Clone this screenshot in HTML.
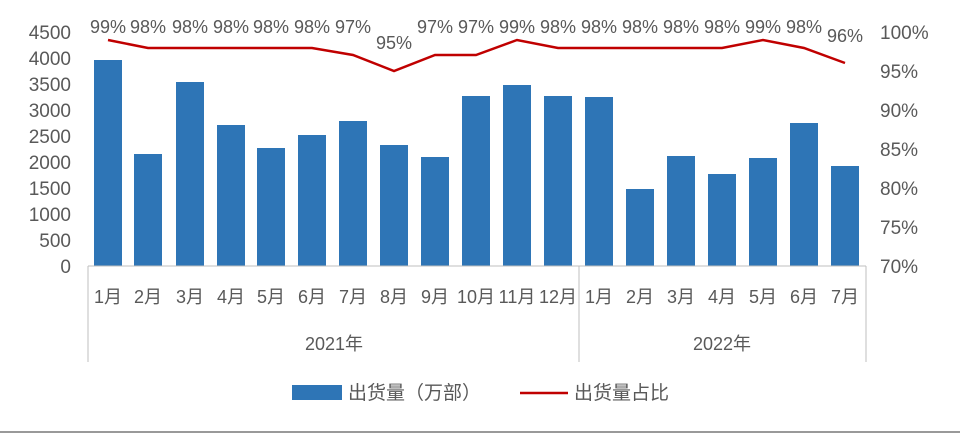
<!DOCTYPE html>
<html><head><meta charset="utf-8"><style>
body{margin:0;background:#fff;}
svg text{font-family:"Liberation Sans","Noto Sans CJK SC",sans-serif;fill:#595959;}
</style></head><body>
<svg width="960" height="435" viewBox="0 0 960 435" xmlns="http://www.w3.org/2000/svg">
<rect width="960" height="435" fill="#fff"/>
<g font-size="19" text-anchor="end">
<text x="71" y="273">0</text><text x="71" y="247">500</text><text x="71" y="221">1000</text>
<text x="71" y="195">1500</text><text x="71" y="169">2000</text><text x="71" y="143">2500</text>
<text x="71" y="117">3000</text><text x="71" y="91">3500</text><text x="71" y="65">4000</text><text x="71" y="39">4500</text>
</g>
<g font-size="19">
<text x="880" y="273">70%</text><text x="880" y="234">75%</text><text x="880" y="195">80%</text>
<text x="880" y="156">85%</text><text x="880" y="117">90%</text><text x="880" y="78">95%</text><text x="880" y="39">100%</text>
</g>
<g fill="#2E75B6">
<rect x="94" y="60" width="28" height="206"/><rect x="134" y="154" width="28" height="112"/>
<rect x="176" y="82" width="28" height="184"/><rect x="217" y="125" width="28" height="141"/>
<rect x="257" y="148" width="28" height="118"/><rect x="298" y="135" width="28" height="131"/>
<rect x="339" y="121" width="28" height="145"/><rect x="380" y="145" width="28" height="121"/>
<rect x="421" y="157" width="28" height="109"/><rect x="462" y="96" width="28" height="170"/>
<rect x="503" y="85" width="28" height="181"/><rect x="544" y="96" width="28" height="170"/>
<rect x="585" y="97" width="28" height="169"/><rect x="626" y="189" width="28" height="77"/>
<rect x="667" y="156" width="28" height="110"/><rect x="708" y="174" width="28" height="92"/>
<rect x="749" y="158" width="28" height="108"/><rect x="790" y="123" width="28" height="143"/>
<rect x="831" y="166" width="28" height="100"/>
</g>
<polyline fill="none" stroke="#C00000" stroke-width="2.5" points="108,40 148,48 190,48 231,48 271,48 312,48 353,55 394,71 435,55 476,55 517,40 558,48 599,48 640,48 681,48 722,48 763,40 804,48 845,63"/>
<g font-size="18" text-anchor="middle">
<text x="108" y="33">99%</text><text x="148" y="33">98%</text><text x="190" y="33">98%</text><text x="231" y="33">98%</text>
<text x="271" y="33">98%</text><text x="312" y="33">98%</text><text x="353" y="33">97%</text><text x="394" y="49">95%</text>
<text x="435" y="33">97%</text><text x="476" y="33">97%</text><text x="517" y="33">99%</text><text x="558" y="33">98%</text>
<text x="599" y="33">98%</text><text x="640" y="33">98%</text><text x="681" y="33">98%</text><text x="722" y="33">98%</text>
<text x="763" y="33">99%</text><text x="804" y="33">98%</text><text x="845" y="42">96%</text>
</g>
<g stroke="#bfbfbf" stroke-width="1">
<line x1="88" y1="266" x2="866" y2="266"/>
<line x1="88" y1="266" x2="88" y2="362"/><line x1="579" y1="266" x2="579" y2="362"/><line x1="866" y1="266" x2="866" y2="362"/>
</g>
<g font-size="18" text-anchor="middle">
<text x="108" y="303">1月</text><text x="148" y="303">2月</text><text x="190" y="303">3月</text><text x="231" y="303">4月</text>
<text x="271" y="303">5月</text><text x="312" y="303">6月</text><text x="353" y="303">7月</text><text x="394" y="303">8月</text>
<text x="435" y="303">9月</text><text x="476" y="303">10月</text><text x="517" y="303">11月</text><text x="558" y="303">12月</text>
<text x="599" y="303">1月</text><text x="640" y="303">2月</text><text x="681" y="303">3月</text><text x="722" y="303">4月</text>
<text x="763" y="303">5月</text><text x="804" y="303">6月</text><text x="845" y="303">7月</text>
<text x="334" y="350">2021年</text><text x="722" y="350">2022年</text>
</g>
<rect x="292" y="385" width="50" height="15" fill="#2E75B6"/>
<text x="348" y="399" font-size="19">出货量（万部）</text>
<line x1="520" y1="393" x2="568" y2="393" stroke="#C00000" stroke-width="2.5"/>
<text x="574" y="399" font-size="19">出货量占比</text>
<line x1="0" y1="432" x2="960" y2="432" stroke="#999" stroke-width="2"/>
</svg>
</body></html>
